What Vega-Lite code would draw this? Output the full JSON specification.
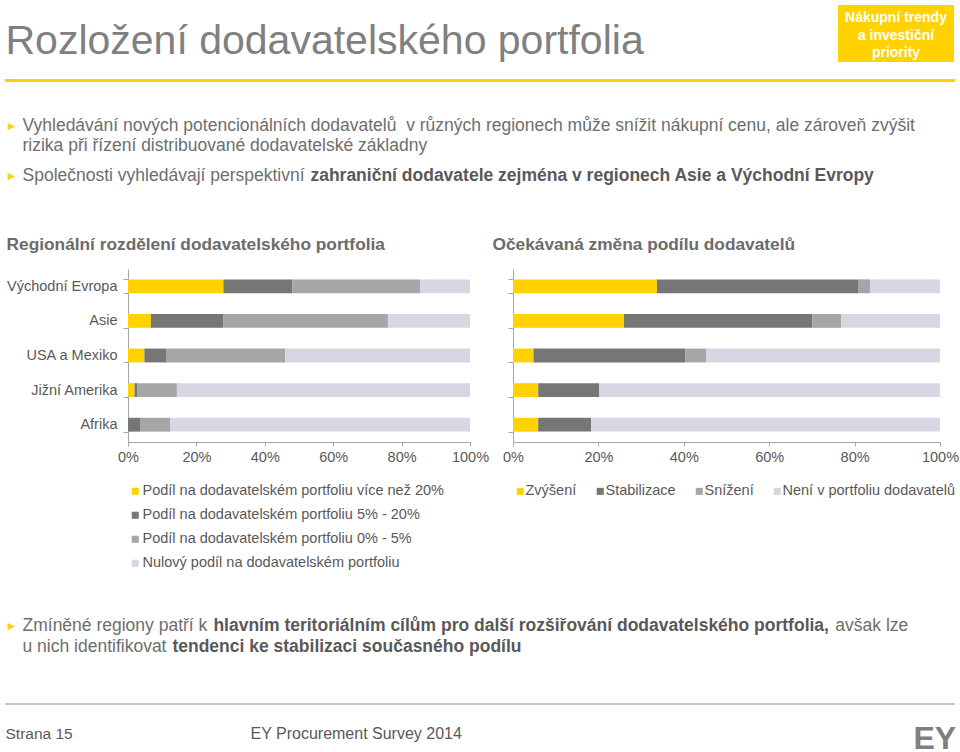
{
  "$schema": "https://vega.github.io/schema/vega-lite/v6.json",
  "background": "white",
  "padding": {"left": 5, "top": 5, "right": 0, "bottom": 0},
  "config": {
    "view": {"stroke": null},
    "font": "Liberation Sans",
    "axis": {"grid": false, "domainColor": "#a6a6a6", "tickColor": "#a6a6a6", "labelColor": "#595959", "labelFontSize": 14.5, "labelFont": "Liberation Sans", "labelFlush": false},
    "legend": {"labelFont": "Liberation Sans"},
    "title": {"font": "Liberation Sans"}
  },
  "spacing": 0,
  "vconcat": [
    {
      "hconcat": [
        {"width": 1, "height": 74, "data": {"values": [{"t": "Rozložení dodavatelského portfolia"}]}, "mark": {"type": "text", "align": "left", "fontSize": 41, "color": "#808080"}, "encoding": {"text": {"field": "t", "type": "nominal"}}},
        {"width": 116, "height": 57, "layer": [
          {"data": {"values": [{}]}, "mark": {"type": "rect", "color": "#FFD200"}, "encoding": {}},
          {"data": {"values": [{"t": "Nákupní trendy", "r": 1}, {"t": "a investiční", "r": 2}, {"t": "priority", "r": 3}]}, "mark": {"type": "text", "color": "white", "fontSize": 14, "fontWeight": "bold"}, "encoding": {"y": {"field": "r", "type": "ordinal", "axis": null, "scale": {"type": "point", "padding": 0.63, "align": 0.6}}, "text": {"field": "t", "type": "nominal"}}}
        ]}
      ],
      "spacing": 194
    },
    {
      "vconcat": [
        {"width": 950, "height": 3, "data": {"values": [{}]}, "mark": {"type": "rect", "color": "#FFD200"}, "encoding": {}},
        {
          "vconcat": [
            {
              "vconcat": [
                {"hconcat": [
                  {"width": 1, "height": 20, "data": {"values": [{"t": "►"}]}, "mark": {"type": "text", "align": "left", "fontSize": 12, "color": "#FFD200"}, "encoding": {"text": {"field": "t", "type": "nominal"}}},
                  {"vconcat": [
                    {"width": 1, "height": 20, "data": {"values": [{"t": "Vyhledávání nových potencionálních dodavatelů\u00a0 v různých regionech může snížit nákupní cenu, ale zároveň zvýšit"}]}, "mark": {"type": "text", "align": "left", "fontSize": 17.5, "color": "#6e6e6e"}, "encoding": {"text": {"field": "t", "type": "nominal"}}},
                    {"width": 1, "height": 20, "data": {"values": [{"t": "rizika při řízení distribuované dodavatelské základny"}]}, "mark": {"type": "text", "align": "left", "fontSize": 17.5, "color": "#6e6e6e"}, "encoding": {"text": {"field": "t", "type": "nominal"}}}
                  ], "spacing": 0}
                ], "spacing": 4},
                {"hconcat": [
                  {"width": 1, "height": 20, "data": {"values": [{"t": "►"}]}, "mark": {"type": "text", "align": "left", "fontSize": 12, "color": "#FFD200"}, "encoding": {"text": {"field": "t", "type": "nominal"}}},
                  {"hconcat": [
                    {"width": 1, "height": 20, "data": {"values": [{"t": "Společnosti vyhledávají perspektivní"}]}, "mark": {"type": "text", "align": "left", "fontSize": 17.5, "color": "#6e6e6e"}, "encoding": {"text": {"field": "t", "type": "nominal"}}},
                    {"width": 1, "height": 20, "data": {"values": [{"t": "zahraniční dodavatele zejména v regionech Asie a Východní Evropy"}]}, "mark": {"type": "text", "align": "left", "fontSize": 17.5, "fontWeight": "bold", "color": "#595959"}, "encoding": {"text": {"field": "t", "type": "nominal"}}}
                  ], "spacing": 4.9}
                ], "spacing": 4}
              ],
              "spacing": 10
            },
            {
              "vconcat": [
                {
                  "hconcat": [
                    {"width": 1, "height": 1, "data": {"values": [{}]}, "mark": {"type": "text", "text": ""}, "encoding": {}},
                    {
                      "hconcat": [
                        {
                          "width": 342, "height": 173,
                          "title": {"text": "Regionální rozdělení dodavatelského portfolia", "anchor": "start", "frame": "bounds", "fontSize": 17.3, "fontWeight": "bold", "color": "#6b6b6b", "offset": 8},
                          "data": {"values": [
                            {"region": "Východní Evropa", "kategorie": "Podíl na dodavatelském portfoliu více než 20%", "poradi": 1, "hodnota": 27.9},
                            {"region": "Východní Evropa", "kategorie": "Podíl na dodavatelském portfoliu 5% - 20%", "poradi": 2, "hodnota": 20.1},
                            {"region": "Východní Evropa", "kategorie": "Podíl na dodavatelském portfoliu 0% - 5%", "poradi": 3, "hodnota": 37.5},
                            {"region": "Východní Evropa", "kategorie": "Nulový podíl na dodavatelském portfoliu", "poradi": 4, "hodnota": 14.5},
                            {"region": "Asie", "kategorie": "Podíl na dodavatelském portfoliu více než 20%", "poradi": 1, "hodnota": 6.7},
                            {"region": "Asie", "kategorie": "Podíl na dodavatelském portfoliu 5% - 20%", "poradi": 2, "hodnota": 21.1},
                            {"region": "Asie", "kategorie": "Podíl na dodavatelském portfoliu 0% - 5%", "poradi": 3, "hodnota": 48.2},
                            {"region": "Asie", "kategorie": "Nulový podíl na dodavatelském portfoliu", "poradi": 4, "hodnota": 24.0},
                            {"region": "USA a Mexiko", "kategorie": "Podíl na dodavatelském portfoliu více než 20%", "poradi": 1, "hodnota": 4.8},
                            {"region": "USA a Mexiko", "kategorie": "Podíl na dodavatelském portfoliu 5% - 20%", "poradi": 2, "hodnota": 6.5},
                            {"region": "USA a Mexiko", "kategorie": "Podíl na dodavatelském portfoliu 0% - 5%", "poradi": 3, "hodnota": 34.7},
                            {"region": "USA a Mexiko", "kategorie": "Nulový podíl na dodavatelském portfoliu", "poradi": 4, "hodnota": 54.0},
                            {"region": "Jižní Amerika", "kategorie": "Podíl na dodavatelském portfoliu více než 20%", "poradi": 1, "hodnota": 1.9},
                            {"region": "Jižní Amerika", "kategorie": "Podíl na dodavatelském portfoliu 5% - 20%", "poradi": 2, "hodnota": 0.9},
                            {"region": "Jižní Amerika", "kategorie": "Podíl na dodavatelském portfoliu 0% - 5%", "poradi": 3, "hodnota": 11.5},
                            {"region": "Jižní Amerika", "kategorie": "Nulový podíl na dodavatelském portfoliu", "poradi": 4, "hodnota": 85.7},
                            {"region": "Afrika", "kategorie": "Podíl na dodavatelském portfoliu více než 20%", "poradi": 1, "hodnota": 0},
                            {"region": "Afrika", "kategorie": "Podíl na dodavatelském portfoliu 5% - 20%", "poradi": 2, "hodnota": 3.7},
                            {"region": "Afrika", "kategorie": "Podíl na dodavatelském portfoliu 0% - 5%", "poradi": 3, "hodnota": 8.7},
                            {"region": "Afrika", "kategorie": "Nulový podíl na dodavatelském portfoliu", "poradi": 4, "hodnota": 87.6}
                          ]},
                          "mark": {"type": "bar"},
                          "encoding": {
                            "y": {"field": "region", "type": "nominal", "sort": ["Východní Evropa", "Asie", "USA a Mexiko", "Jižní Amerika", "Afrika"], "scale": {"paddingInner": 0.6, "paddingOuter": 0.3}, "axis": {"title": null, "tickBand": "extent", "tickSize": 5, "labelPadding": 6}},
                            "x": {"field": "hodnota", "type": "quantitative", "stack": "zero", "scale": {"domain": [0, 100], "nice": false}, "axis": {"title": null, "values": [0, 20, 40, 60, 80, 100], "labelExpr": "datum.value + '%'", "tickSize": 4, "labelPadding": 4}},
                            "color": {"field": "kategorie", "type": "nominal", "scale": {"domain": ["Podíl na dodavatelském portfoliu více než 20%", "Podíl na dodavatelském portfoliu 5% - 20%", "Podíl na dodavatelském portfoliu 0% - 5%", "Nulový podíl na dodavatelském portfoliu"], "range": ["#FFD200", "#767676", "#a6a6a6", "#d9d5e2"]}, "legend": {"title": null, "orient": "bottom", "direction": "vertical", "symbolType": "square", "symbolSize": 50, "symbolStrokeWidth": 0, "labelFontSize": 14.5, "labelColor": "#595959", "labelLimit": 0, "rowPadding": 9, "labelOffset": 0, "offset": 20, "padding": 0}},
                            "order": {"field": "poradi", "type": "quantitative"}
                          }
                        },
                        {
                          "width": 427, "height": 173,
                          "title": {"text": "Očekávaná změna podílu dodavatelů", "anchor": "start", "frame": "bounds", "fontSize": 17.3, "fontWeight": "bold", "color": "#6b6b6b", "offset": 16, "dx": -10},
                          "data": {"values": [
                            {"region": "Východní Evropa", "zmena": "Zvýšení", "poradi": 1, "hodnota": 33.7},
                            {"region": "Východní Evropa", "zmena": "Stabilizace", "poradi": 2, "hodnota": 47.1},
                            {"region": "Východní Evropa", "zmena": "Snížení", "poradi": 3, "hodnota": 2.8},
                            {"region": "Východní Evropa", "zmena": "Není v portfoliu dodavatelů", "poradi": 4, "hodnota": 16.4},
                            {"region": "Asie", "zmena": "Zvýšení", "poradi": 1, "hodnota": 26.0},
                            {"region": "Asie", "zmena": "Stabilizace", "poradi": 2, "hodnota": 44.1},
                            {"region": "Asie", "zmena": "Snížení", "poradi": 3, "hodnota": 6.8},
                            {"region": "Asie", "zmena": "Není v portfoliu dodavatelů", "poradi": 4, "hodnota": 23.1},
                            {"region": "USA a Mexiko", "zmena": "Zvýšení", "poradi": 1, "hodnota": 4.8},
                            {"region": "USA a Mexiko", "zmena": "Stabilizace", "poradi": 2, "hodnota": 35.6},
                            {"region": "USA a Mexiko", "zmena": "Snížení", "poradi": 3, "hodnota": 4.8},
                            {"region": "USA a Mexiko", "zmena": "Není v portfoliu dodavatelů", "poradi": 4, "hodnota": 54.8},
                            {"region": "Jižní Amerika", "zmena": "Zvýšení", "poradi": 1, "hodnota": 5.9},
                            {"region": "Jižní Amerika", "zmena": "Stabilizace", "poradi": 2, "hodnota": 14.3},
                            {"region": "Jižní Amerika", "zmena": "Snížení", "poradi": 3, "hodnota": 0},
                            {"region": "Jižní Amerika", "zmena": "Není v portfoliu dodavatelů", "poradi": 4, "hodnota": 79.8},
                            {"region": "Afrika", "zmena": "Zvýšení", "poradi": 1, "hodnota": 5.9},
                            {"region": "Afrika", "zmena": "Stabilizace", "poradi": 2, "hodnota": 12.4},
                            {"region": "Afrika", "zmena": "Snížení", "poradi": 3, "hodnota": 0},
                            {"region": "Afrika", "zmena": "Není v portfoliu dodavatelů", "poradi": 4, "hodnota": 81.7}
                          ]},
                          "mark": {"type": "bar"},
                          "encoding": {
                            "y": {"field": "region", "type": "nominal", "sort": ["Východní Evropa", "Asie", "USA a Mexiko", "Jižní Amerika", "Afrika"], "scale": {"paddingInner": 0.6, "paddingOuter": 0.3}, "axis": {"title": null, "labels": false, "tickBand": "extent", "tickSize": 5}},
                            "x": {"field": "hodnota", "type": "quantitative", "stack": "zero", "scale": {"domain": [0, 100], "nice": false}, "axis": {"title": null, "values": [0, 20, 40, 60, 80, 100], "labelExpr": "datum.value + '%'", "tickSize": 4, "labelPadding": 4}},
                            "color": {"field": "zmena", "type": "nominal", "scale": {"domain": ["Zvýšení", "Stabilizace", "Snížení", "Není v portfoliu dodavatelů"], "range": ["#FFD200", "#767676", "#a6a6a6", "#d9d5e2"]}, "legend": {"title": null, "orient": "bottom", "direction": "horizontal", "symbolType": "square", "symbolSize": 50, "symbolStrokeWidth": 0, "labelFontSize": 14.5, "labelColor": "#595959", "labelLimit": 0, "columnPadding": 16, "labelOffset": -2, "offset": 20, "padding": 0}},
                            "order": {"field": "poradi", "type": "quantitative"}
                          }
                        }
                      ],
                      "spacing": 3,
                      "resolve": {"scale": {"color": "independent"}, "legend": {"color": "independent"}}
                    }
                  ],
                  "spacing": 0,
                  "resolve": {"scale": {"color": "independent"}, "legend": {"color": "independent"}}
                },
                {
                  "vconcat": [
                    {"hconcat": [
                      {"width": 1, "height": 20, "data": {"values": [{"t": "►"}]}, "mark": {"type": "text", "align": "left", "fontSize": 12, "color": "#FFD200"}, "encoding": {"text": {"field": "t", "type": "nominal"}}},
                      {"vconcat": [
                        {"hconcat": [
                          {"width": 1, "height": 20, "data": {"values": [{"t": "Zmíněné regiony patří k"}]}, "mark": {"type": "text", "align": "left", "fontSize": 17.5, "color": "#6e6e6e"}, "encoding": {"text": {"field": "t", "type": "nominal"}}},
                          {"width": 1, "height": 20, "data": {"values": [{"t": "hlavním teritoriálním cílům pro další rozšiřování dodavatelského portfolia,"}]}, "mark": {"type": "text", "align": "left", "fontSize": 17.5, "fontWeight": "bold", "color": "#595959"}, "encoding": {"text": {"field": "t", "type": "nominal"}}},
                          {"width": 1, "height": 20, "data": {"values": [{"t": "avšak lze"}]}, "mark": {"type": "text", "align": "left", "fontSize": 17.5, "color": "#6e6e6e"}, "encoding": {"text": {"field": "t", "type": "nominal"}}}
                        ], "spacing": 4.9},
                        {"hconcat": [
                          {"width": 1, "height": 20, "data": {"values": [{"t": "u nich identifikovat"}]}, "mark": {"type": "text", "align": "left", "fontSize": 17.5, "color": "#6e6e6e"}, "encoding": {"text": {"field": "t", "type": "nominal"}}},
                          {"width": 1, "height": 20, "data": {"values": [{"t": "tendenci ke stabilizaci současného podílu"}]}, "mark": {"type": "text", "align": "left", "fontSize": 17.5, "fontWeight": "bold", "color": "#595959"}, "encoding": {"text": {"field": "t", "type": "nominal"}}}
                        ], "spacing": 4.9}
                      ], "spacing": 1}
                    ], "spacing": 4},
                    {
                      "vconcat": [
                        {"width": 950, "height": 2, "data": {"values": [{}]}, "mark": {"type": "rect", "color": "#c8c8c8"}, "encoding": {}},
                        {"hconcat": [
                          {"width": 1, "height": 20, "data": {"values": [{"t": "Strana 15"}]}, "mark": {"type": "text", "align": "left", "fontSize": 15.5, "color": "#595959"}, "encoding": {"text": {"field": "t", "type": "nominal"}}},
                          {"hconcat": [
                            {"width": 1, "height": 20, "data": {"values": [{"t": "EY Procurement Survey 2014"}]}, "mark": {"type": "text", "align": "left", "fontSize": 16, "color": "#595959"}, "encoding": {"text": {"field": "t", "type": "nominal"}}},
                            {"width": 1, "height": 30, "data": {"values": [{"t": "EY"}]}, "mark": {"type": "text", "align": "left", "fontSize": 32, "fontWeight": "bold", "color": "#7f7f7f"}, "encoding": {"text": {"field": "t", "type": "nominal"}}}
                          ], "spacing": 450}
                        ], "spacing": 177}
                      ],
                      "spacing": 18
                    }
                  ],
                  "spacing": 46
                }
              ],
              "spacing": 46
            }
          ],
          "spacing": 49
        }
      ],
      "spacing": 34
    }
  ]
}
